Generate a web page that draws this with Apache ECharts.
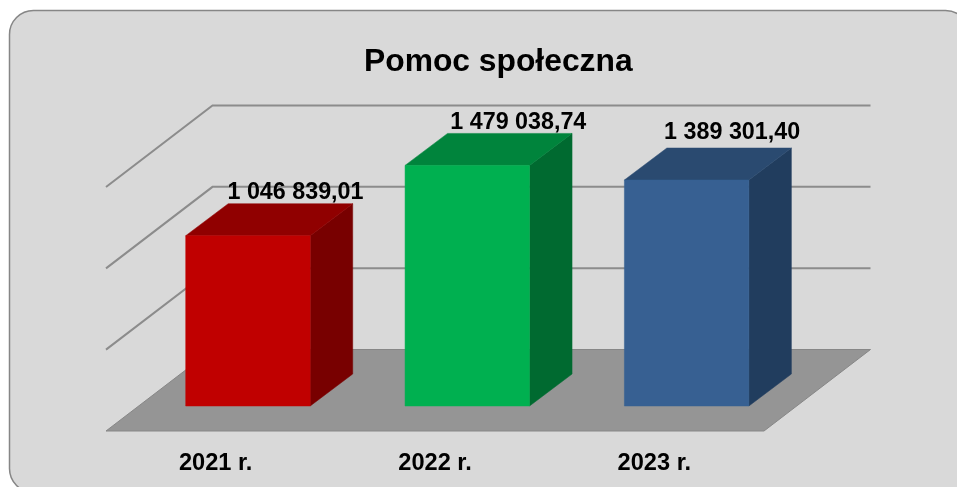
<!DOCTYPE html>
<html>
<head>
<meta charset="utf-8">
<style>html,body{margin:0;padding:0;background:#fff;overflow:hidden}#c{width:957px;height:487px}</style>
<script src="https://cdn.jsdelivr.net/npm/echarts@6/dist/echarts.min.js"></script>
</head>
<body>
<div id="c"></div>
<script>
const titleText = 'Pomoc społeczna';
const categories = ['2021 r.', '2022 r.', '2023 r.'];
const values = [1046839.01, 1479038.74, 1389301.40];
const valueLabels = ['1 046 839,01', '1 479 038,74', '1 389 301,40'];
const frontColors = ['#c00000', '#00b050', '#376092'];
const topColors = ['#900000', '#00843c', '#2a4a70'];
const sideColors = ['#780000', '#006a30', '#213d5e'];
const gridValues = [500000, 1000000, 1500000];
const FONT = '"Liberation Sans", Arial, sans-serif';

// oblique projection used for the pseudo-3D look
const wallDX = 106.5, wallDY = -81.5;
const barDX = 42.5, barDY = -32;
const barFloorDX = 32.3, barFloorDY = -25;
const barWidth = 124.5;
const labelDX = [47.5, 51, 45.5];
const labelDY = [-11, -11, -15];

const chart = echarts.init(document.getElementById('c'), null, {renderer: 'canvas'});

function poly(points, fill) {
  return {type: 'polygon', shape: {points}, style: {fill, stroke: fill, lineWidth: 0.5}};
}

function renderFloor(params, api) {
  const cs = params.coordSys;
  const y0 = api.coord([0, 0])[1];
  const L = cs.x, R = cs.x + cs.width;
  const children = [];
  children.push({
    type: 'polygon',
    shape: {points: [[L, y0], [R, y0], [R + wallDX, y0 + wallDY], [L + wallDX, y0 + wallDY]]},
    style: {fill: '#959595', stroke: '#878787', lineWidth: 1}
  });
  gridValues.forEach(v => {
    const y = api.coord([0, v])[1];
    children.push({
      type: 'polyline',
      shape: {points: [[L, y], [L + wallDX, y + wallDY], [R + wallDX, y + wallDY]]},
      style: {fill: null, stroke: '#8c8c8c', lineWidth: 2}
    });
  });
  return {type: 'group', children};
}

function renderBar(params, api) {
  const i = api.value(0);
  const top = api.coord([i, api.value(1)]);
  const base = api.coord([i, 0]);
  const cx = top[0] + barFloorDX;
  const xl = cx - barWidth / 2, xr = cx + barWidth / 2;
  const yt = top[1] + barFloorDY, yb = base[1] + barFloorDY;
  return {
    type: 'group',
    children: [
      poly([[xr, yt], [xr + barDX, yt + barDY], [xr + barDX, yb + barDY], [xr, yb]], sideColors[i]),
      poly([[xl, yt], [xl + barDX, yt + barDY], [xr + barDX, yt + barDY], [xr, yt]], topColors[i]),
      poly([[xl, yt], [xr, yt], [xr, yb], [xl, yb]], frontColors[i]),
      {
        type: 'text',
        style: {
          x: cx + labelDX[i], y: yt + barDY + labelDY[i],
          text: valueLabels[i], align: 'center', verticalAlign: 'middle',
          fontFamily: FONT, fontWeight: 'bold', fontSize: 23.3, fill: '#000'
        }
      }
    ]
  };
}

chart.setOption({
  animation: false,
  backgroundColor: '#fff',
  graphic: [{
    type: 'rect', z: -10,
    shape: {x: 9.5, y: 10.5, width: 960, height: 482, r: 24},
    style: {fill: '#d9d9d9', stroke: '#868686', lineWidth: 1.5}
  }],
  title: {
    text: titleText, left: 364, top: 46,
    padding: 0,
    textStyle: {fontFamily: FONT, fontWeight: 'bold', fontSize: 31.8, color: '#000'}
  },
  grid: {left: 106, right: 193, top: 187, bottom: 56, containLabel: false},
  xAxis: {
    type: 'category', data: categories,
    axisLine: {show: false}, axisTick: {show: false}, splitLine: {show: false},
    axisLabel: {interval: 0, margin: 20, color: '#000', fontFamily: FONT, fontWeight: 'bold', fontSize: 23.6}
  },
  yAxis: {
    type: 'value', min: 0, max: 1500000, interval: 500000,
    axisLine: {show: false}, axisTick: {show: false}, splitLine: {show: false},
    axisLabel: {show: false}
  },
  series: [
    {type: 'custom', coordinateSystem: 'cartesian2d', silent: true, z: 1,
     renderItem: renderFloor, data: [[0, 0]], encode: {x: 0, y: 1}, clip: false},
    {type: 'custom', coordinateSystem: 'cartesian2d', silent: true, z: 2,
     renderItem: renderBar, data: values.map((v, i) => [i, v]), encode: {x: 0, y: 1}, clip: false}
  ]
});
</script>
</body>
</html>
